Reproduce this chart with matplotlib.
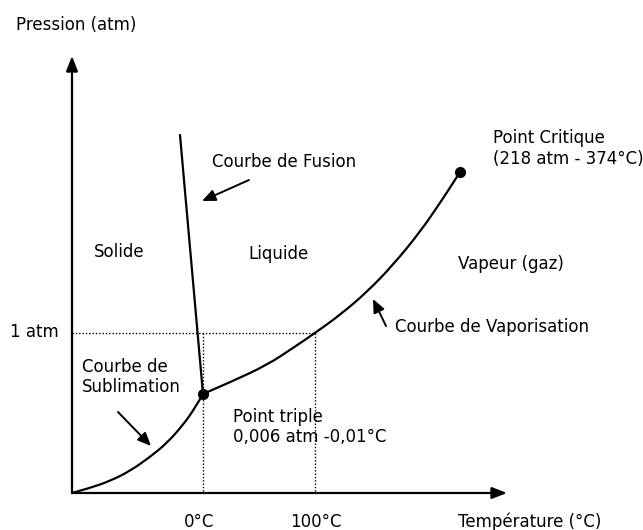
import matplotlib
matplotlib.use("Agg")
import matplotlib.pyplot as plt
from matplotlib.path import Path
from matplotlib.patches import PathPatch

# Schematic coordinates (drawing units, y grows downward like the reference sketch)
sublimation_x = [72, 90, 110, 130, 150, 167, 183, 195, 203]
sublimation_y = [493, 488, 481, 471, 457, 443, 425, 408, 394]

vaporisation_x = [203, 233, 267, 293, 315, 340, 367, 393, 420, 440, 453, 460]
vaporisation_y = [394, 381, 365, 348, 333, 315, 292, 265, 232, 203, 183, 172]

fusion_x = [180, 203]
fusion_y = [135, 394]

triple_point = (203, 394)
critical_point = (460, 172)

one_atm_y = 333
t0_x = 203
t100_x = 315

origin = (72, 493)
x_axis_end = 507
y_axis_end = 56

labels = [
    ("Pression (atm)", 16, 30),
    ("Courbe de Fusion", 212, 167),
    ("Point Critique", 493, 143),
    ("(218 atm - 374°C)", 493, 164),
    ("Solide", 94, 257),
    ("Liquide", 248, 259),
    ("Vapeur (gaz)", 458, 269),
    ("1 atm", 10, 337),
    ("Courbe de Vaporisation", 395, 332),
    ("Courbe de", 82, 372),
    ("Sublimation", 82, 392),
    ("Point triple", 233, 422),
    ("0,006 atm -0,01°C", 233, 442),
    ("Température (°C)", 458, 527),
]
tick_labels = [("0°C", 199, 527), ("100°C", 316, 527)]

# pointer arrows: (tail_x, tail_y, tip_x, tip_y)
pointers = [
    (249, 180, 202, 201),
    (386, 326, 373, 299),
    (118, 412, 151, 446),
]

fig = plt.figure(figsize=(6.43, 5.30), dpi=100)
ax = fig.add_axes([0, 0, 1, 1])
ax.set_xlim(0, 643)
ax.set_ylim(530, 0)
ax.axis("off")

lw = 1.6
fs = 12


def smooth_curve(xs, ys):
    """Quadratic Bezier path through segment midpoints, using the read points as controls."""
    pts = list(zip(xs, ys))
    verts = [pts[0]]
    codes = [Path.MOVETO]
    for i in range(1, len(pts) - 1):
        mid = ((pts[i][0] + pts[i + 1][0]) / 2, (pts[i][1] + pts[i + 1][1]) / 2)
        if i == len(pts) - 2:
            mid = pts[-1]
        verts += [pts[i], mid]
        codes += [Path.CURVE3, Path.CURVE3]
    return Path(verts, codes)


# axes with arrowheads
ax.annotate("", xy=(x_axis_end, origin[1]), xytext=origin,
            arrowprops=dict(arrowstyle="-|>,head_length=0.9,head_width=0.35",
                            lw=lw, color="black", shrinkA=0, shrinkB=0))
ax.annotate("", xy=(origin[0], y_axis_end), xytext=origin,
            arrowprops=dict(arrowstyle="-|>,head_length=0.9,head_width=0.35",
                            lw=lw, color="black", shrinkA=0, shrinkB=0))

# dotted guides
dots = (0, (1, 1.4))
ax.plot([origin[0], t100_x], [one_atm_y, one_atm_y], color="black", lw=1, ls=dots)
ax.plot([t0_x, t0_x], [one_atm_y, origin[1]], color="black", lw=1, ls=dots)
ax.plot([t100_x, t100_x], [one_atm_y, origin[1]], color="black", lw=1, ls=dots)

# curves
for xs, ys in [(sublimation_x, sublimation_y), (vaporisation_x, vaporisation_y)]:
    ax.add_patch(PathPatch(smooth_curve(xs, ys), fill=False, lw=lw, edgecolor="black",
                           capstyle="round"))
ax.plot(fusion_x, fusion_y, color="black", lw=lw, solid_capstyle="round")

ax.plot(*triple_point, "o", color="black", ms=7)
ax.plot(*critical_point, "o", color="black", ms=7)

for tx, ty, hx, hy in pointers:
    ax.annotate("", xy=(hx, hy), xytext=(tx, ty),
                arrowprops=dict(arrowstyle="-|>,head_length=0.8,head_width=0.35",
                                lw=1.4, color="black", shrinkA=0, shrinkB=0))

for txt, x, y in labels:
    ax.text(x, y, txt, fontsize=fs, ha="left", va="baseline", family="DejaVu Sans")
for txt, x, y in tick_labels:
    ax.text(x, y, txt, fontsize=fs, ha="center", va="baseline", family="DejaVu Sans")

fig.savefig("out.png", dpi=100)
